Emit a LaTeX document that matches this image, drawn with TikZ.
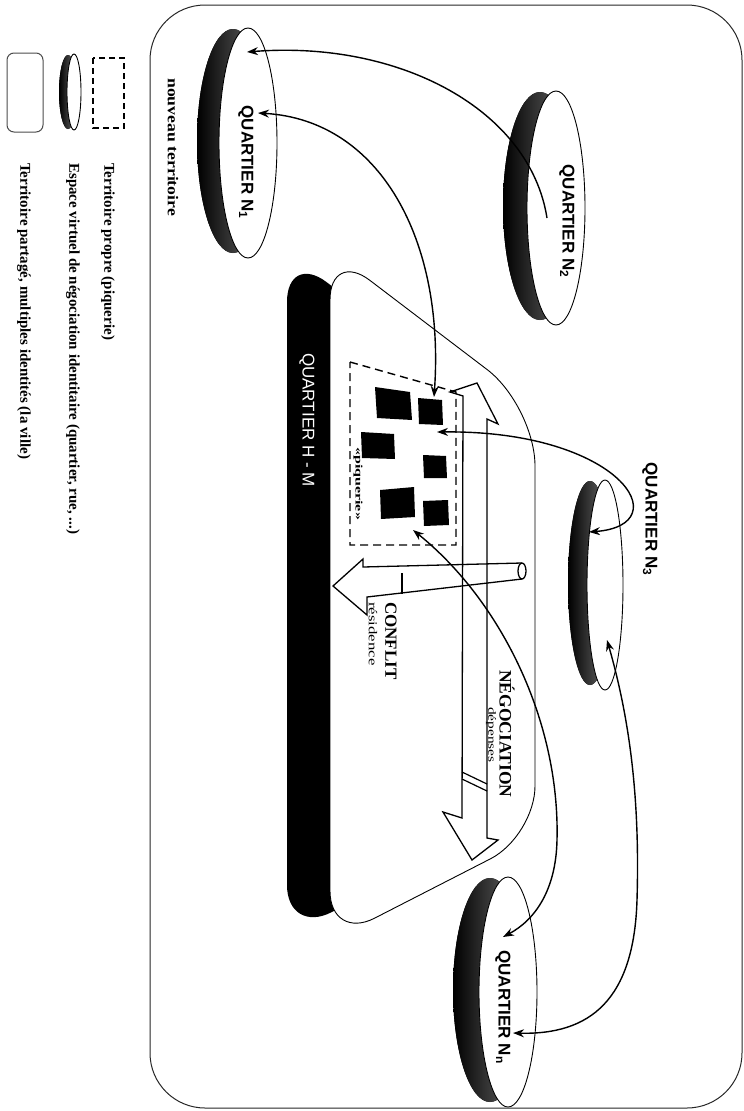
\documentclass[tikz,border=0pt]{standalone}
\usepackage{fontspec}
\setmainfont{Liberation Serif}
\setsansfont{Liberation Sans}
\usetikzlibrary{arrows.meta}
\begin{document}
\begin{tikzpicture}[x=1pt,y=-1pt,
  tip/.tip={Stealth[length=11pt,width=8pt]},
  conn/.style={line width=1.4pt,tip-tip},
  conn1/.style={line width=1.4pt,-tip},
  frame/.style={line width=1pt,draw=black!85,rounded corners=55pt},
  shadowdisc/.style={left color=black,right color=black!55,draw=none},
  topdisc/.style={fill=white,draw=black,line width=0.9pt},
  qlab/.style={rotate=-90,inner sep=0pt,font=\sffamily\bfseries\fontsize{17}{17}\selectfont},
  leg/.style={rotate=-90,inner sep=0pt,anchor=west,font=\bfseries\fontsize{15}{15}\selectfont},
  bigl/.style={rotate=-90,inner sep=0pt,anchor=west,font=\bfseries\fontsize{17}{17}\selectfont},
  smalll/.style={rotate=-90,inner sep=0pt,anchor=west,font=\fontsize{11}{11}\selectfont},
  hollow/.style={line width=1.3pt,draw=black,line join=miter},
  bldg/.style={fill=black,draw=none}]
\useasboundingbox (0,0) rectangle (744,1111);

% ---------- legend ----------
\draw[line width=1pt,draw=black!70,rounded corners=7pt] (7,53) rectangle (43,132);
\fill[shadowdisc] (68,92) ellipse [x radius=9,y radius=37];
\draw[topdisc] (74,92) ellipse [x radius=7,y radius=38];
\draw[line width=1.3pt,dash pattern=on 6pt off 4pt] (93,58) rectangle (124,128);
\node[leg] (lg1) at (24,163) {Territoire partagé, multiples identités (la ville)};
\node[leg] (lg2) at (73,163) {Espace virtuel de négociation identitaire (quartier, rue, ...)};
\node[leg] (lg3) at (108,163) {Territoire propre (piquerie)};

% ---------- outer territory ----------
\draw[frame] (150,5) rectangle (742,1108);
\node[leg] (nt) at (173,78) {\scalebox{1.18}[1]{nouveau territoire}};

% ---------- quartier H-M ----------
\fill[black] [rounded corners=60pt] (287,252) -- (492,408) [rounded corners=50pt] -- (492,830) -- (287,935) -- cycle;
\draw[fill=white,line width=0.9pt] [rounded corners=60pt] (330,250) -- (535,406) [rounded corners=50pt] -- (535,836) -- (330,941) -- cycle;
\fill[black] (287,330) rectangle (330,875);
\node[qlab,font=\sffamily\fontsize{17}{17}\selectfont,text=white] (hm) at (307,420) {QUARTIER H - M};

% piquerie
\draw[line width=1.4pt,dash pattern=on 8pt off 5pt] (350,362) -- (456,392) -- (456,545) -- (350,545) -- cycle;
\fill[bldg] (375,387) -- (410,392) -- (412,420) -- (377,418) -- cycle;
\fill[bldg] (418,398) -- (442,400) -- (443,425) -- (419,424) -- cycle;
\fill[bldg] (361,432) -- (394,434) -- (395,459) -- (362,458) -- cycle;
\fill[bldg] (423,455) -- (446,456) -- (447,478) -- (424,478) -- cycle;
\fill[bldg] (380,490) -- (414,487) -- (415,517) -- (381,519) -- cycle;
\fill[bldg] (423,501) -- (448,500) -- (449,525) -- (424,526) -- cycle;
\node[smalll,font=\bfseries\fontsize{10}{10}\selectfont] (pq) at (358,447) {\scalebox{1.6}[1]{«piquerie»}};

% negotiation arrow
\draw[hollow] (463,396) -- (450,392) -- (477,383) -- (498,424) -- (487,419) -- (487,838) -- (498,840) -- (472,860) -- (443,812) -- (462,818) -- cycle;
\draw[line width=1.2pt] (462,772) -- (487,784) (462,779) -- (487,791);
\node[bigl,font=\bfseries\fontsize{17.5}{17.5}\selectfont] (neg) at (507,670) {NÉGOCIATION};
\node[smalll] (dep) at (491,707) {\scalebox{1.4}[1]{dépenses}};

% conflict arrow
\draw[hollow] (522,563) -- (363,567) -- (363,559) -- (333,586) -- (367,615) -- (367,597) -- (522,579);
\draw[line width=1.3pt,fill=white] (522,571) ellipse [x radius=4,y radius=8];
\draw[line width=1.3pt] (402,573) -- (402,594);
\node[bigl] (conf) at (391,602) {CONFLIT};
\node[smalll,font=\fontsize{12}{12}\selectfont] (res) at (373,602) {\scalebox{1.4}[1]{résidence}};

% ---------- quartiers ----------
\fill[shadowdisc] (233,141) ellipse [x radius=36,y radius=112];
\draw[topdisc] (248,143) ellipse [x radius=29,y radius=115];
\node[qlab] (n1) at (246,162) {QUARTIER N\textsubscript{1}};

\fill[shadowdisc] (540,206) ellipse [x radius=37,y radius=114];
\draw[topdisc] (556,208) ellipse [x radius=29,y radius=117];
\node[qlab] (n2) at (567,221) {QUARTIER N\textsubscript{2}};

\fill[shadowdisc] (590,583) ellipse [x radius=22,y radius=102];
\draw[topdisc] (605,585) ellipse [x radius=18,y radius=105];
\node[qlab] (n3) at (650,519) {QUARTIER N\textsubscript{3}};

\fill[shadowdisc] (490,990) ellipse [x radius=37,y radius=112];
\draw[topdisc] (508,992) ellipse [x radius=29,y radius=115];
\node[qlab] (nn) at (503,1007) {QUARTIER N\textsubscript{n}};

% ---------- connectors ----------
\coordinate (a2s) at (547,218);
\coordinate (a2e) at (247,52);
\coordinate (b1) at (258,113);
\coordinate (b2) at (434,397);
\coordinate (c1) at (437,432);
\coordinate (c2) at (589,532);
\coordinate (d1) at (413,530);
\coordinate (d2) at (503,937);
\coordinate (e1) at (607,640);
\coordinate (e2) at (513,1033);

\draw[conn1] (a2s) .. controls (530,110) and (400,40) .. (a2e);
\draw[conn] (b1) .. controls (380,120) and (445,240) .. (b2);
\draw[conn] (c1) .. controls (620,430) and (680,525) .. (c2);
\draw[conn] (d1) .. controls (500,600) and (560,720) .. (557,840) .. controls (556,890) and (535,920) .. (d2);
\draw[conn] (e1) .. controls (630,720) and (640,800) .. (637,900) .. controls (634,1000) and (590,1035) .. (e2);
\end{tikzpicture}
\end{document}
